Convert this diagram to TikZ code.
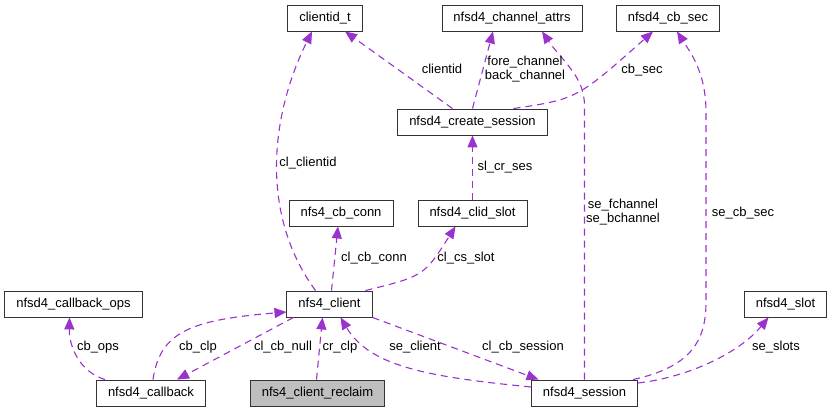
\documentclass[tikz,border=0pt]{standalone}
\usepackage{fontspec}
\setmainfont{Liberation Sans}
\usepackage{xcolor}
\usepackage{tikz}
\usetikzlibrary{arrows.meta}

\definecolor{orchid}{HTML}{9A32CD}

\begin{document}
\begin{tikzpicture}[
  x=1pt, y=1pt, >={Triangle[length=12pt,width=10pt]},
  font=\fontsize{13}{14}\selectfont,
  cls/.style={draw=black!80, line width=0.9pt, fill=white, inner xsep=11.5pt, inner ysep=0pt,
              minimum height=26pt},
  dep/.style={->, orchid, line width=1.1pt, dash pattern=on 7pt off 5pt},
  elab/.style={align=center, inner sep=1pt}
]
  \useasboundingbox (0,0) rectangle (833,412);
  \node[cls] (clientid) at (325,394) {clientid\_t};
  \node[cls] (chattr) at (512,394) {nfsd4\_channel\_attrs};
  \node[cls] (cbsec) at (668,394) {nfsd4\_cb\_sec};
  \node[cls] (cses) at (472.5,290) {nfsd4\_create\_session};
  \node[cls] (cbconn) at (341,199) {nfs4\_cb\_conn};
  \node[cls] (cslot) at (472.5,199) {nfsd4\_clid\_slot};
  \node[cls] (client) at (329.5,108) {nfs4\_client};
  \node[cls] (cbops) at (73.5,108) {nfsd4\_callback\_ops};
  \node[cls] (slot) at (785.5,108) {nfsd4\_slot};
  \node[cls] (cb) at (151,19) {nfsd4\_callback};
  \node[cls, fill=black!25] (reclaim) at (317.5,19) {nfs4\_client\_reclaim};
  \node[cls] (session) at (584.5,19) {nfsd4\_session};
  % members
  \draw[dep] ([xshift=-14pt]client.north) .. controls (258,200) and (272,300) .. ([xshift=-13pt]clientid.south);
  \draw[dep] ([xshift=-20pt]cses.north) -- ([xshift=20pt]clientid.south);
  \draw[dep] (cses.north) -- ([xshift=-19pt]chattr.south);
  \draw[dep] ([xshift=41pt]cses.north) .. controls (577,313) .. ([xshift=-15pt]cbsec.south);
  \draw[dep] (cslot.north) -- (cses.south);
  \draw[dep] ([xshift=2pt]client.north) -- ([xshift=-3pt]cbconn.south);
  \draw[dep] ([xshift=36pt]client.north) .. controls (424,136) .. ([xshift=-17pt]cslot.south);
  \draw[dep] ([xshift=-46pt]cb.north) .. controls (80,40) and (69,65) .. ([xshift=-4pt]cbops.south);
  \draw[dep] ([xshift=2pt]cb.north) .. controls (160,80) and (190,92) .. ([yshift=-8pt]client.west);
  \draw[dep] ([xshift=-36pt]client.south) -- ([xshift=26pt]cb.north);
  \draw[dep] ([xshift=-1pt]reclaim.north) -- ([xshift=-7pt]client.south);
  \draw[dep] ([yshift=6pt]session.west) .. controls (430,35) and (370,45) .. ([xshift=11pt]client.south);
  \draw[dep] (client.south east) -- ([xshift=-46pt]session.north);
  \draw[dep] (session.north) -- (584.5,306) .. controls (584.5,336) and (562,351) .. ([xshift=30pt]chattr.south);
  \draw[dep] ([xshift=-5pt]session.north east) .. controls (690,45) and (706,70) .. (706,110)
    -- (706,300) .. controls (706,340) and (690,360) .. ([xshift=9pt]cbsec.south);
  \draw[dep] ([yshift=10pt]session.east) .. controls (690,35) and (740,60) .. ([xshift=-17pt]slot.south);
  % labels
  \node[elab] (l1) at (308,249) {cl\_clientid};
  \node[elab] (l2) at (442,343) {clientid};
  \node[elab] (l3) at (525,343) {fore\_channel\\back\_channel};
  \node[elab] (l4) at (642,342) {cb\_sec};
  \node[elab] (l5) at (505,245) {sl\_cr\_ses};
  \node[elab] (l6) at (374,154) {cl\_cb\_conn};
  \node[elab] (l7) at (466,154) {cl\_cs\_slot};
  \node[elab] (l8) at (98,65) {cb\_ops};
  \node[elab] (l9) at (198,65) {cb\_clp};
  \node[elab] (l10) at (283,65) {cl\_cb\_null};
  \node[elab] (l11) at (340,65) {cr\_clp};
  \node[elab] (l12) at (415,65) {se\_client};
  \node[elab] (l13) at (523,65) {cl\_cb\_session};
  \node[elab] (l14) at (623,200) {se\_fchannel\\se\_bchannel};
  \node[elab] (l15) at (743,199) {se\_cb\_sec};
  \node[elab] (l16) at (776,65) {se\_slots};
\end{tikzpicture}
\end{document}
